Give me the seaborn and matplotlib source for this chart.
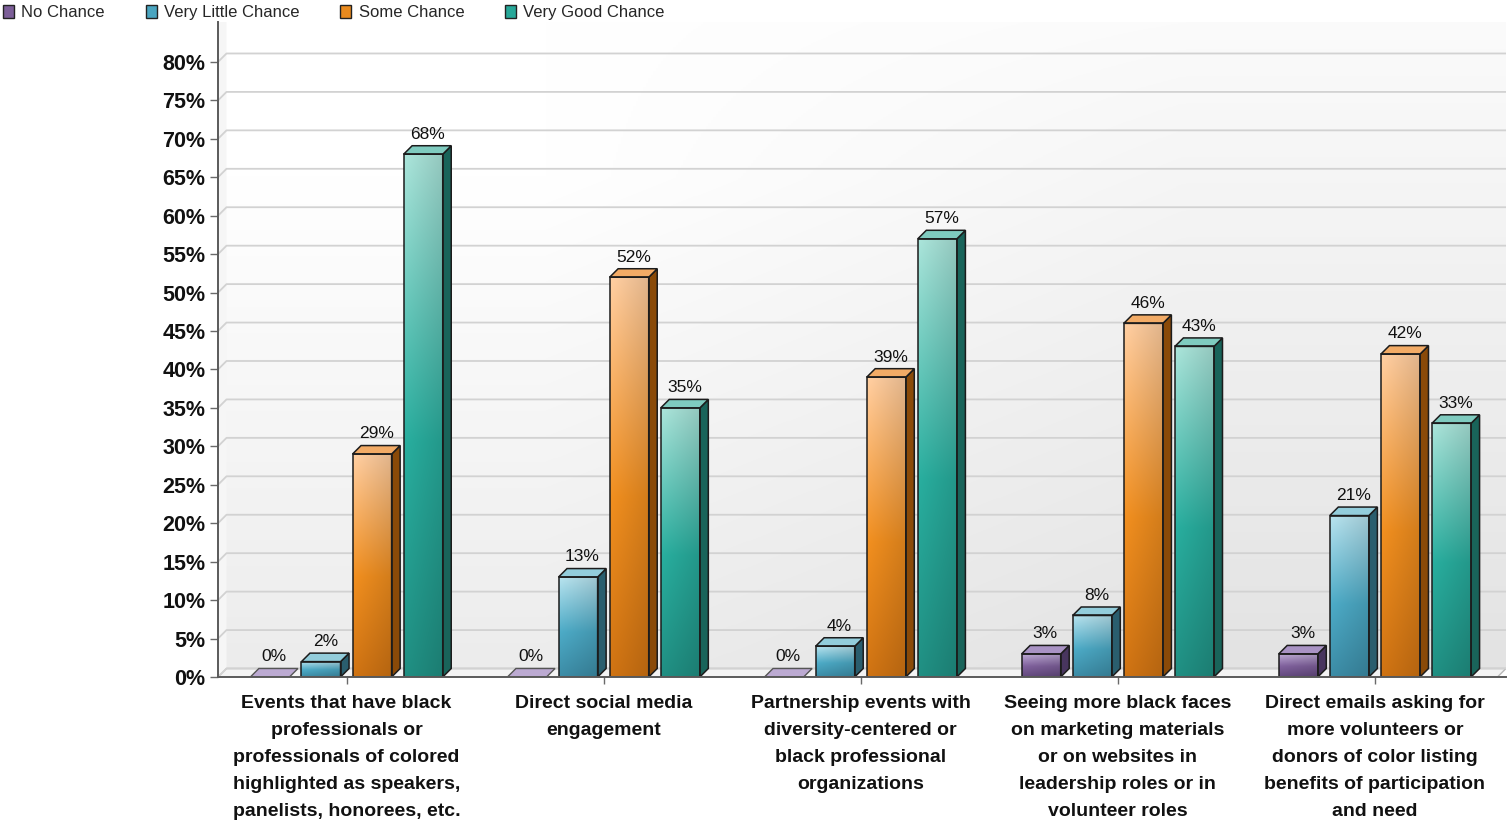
import numpy as np
import pandas as pd
import matplotlib
matplotlib.use("Agg")
import matplotlib.pyplot as plt
import seaborn as sns
from matplotlib.patches import Polygon, Rectangle, Patch
from matplotlib.colors import to_rgb

# ---- data -------------------------------------------------------------
categories = [
    "Events that have black\nprofessionals or\nprofessionals of colored\nhighlighted as speakers,\npanelists, honorees, etc.",
    "Direct social media\nengagement",
    "Partnership events with\ndiversity-centered or\nblack professional\norganizations",
    "Seeing more black faces\non marketing materials\nor on websites in\nleadership roles or in\nvolunteer roles",
    "Direct emails asking for\nmore volunteers or\ndonors of color listing\nbenefits of participation\nand need",
]
series = ["No Chance", "Very Little Chance", "Some Chance", "Very Good Chance"]
no_chance = [0, 0, 0, 3, 3]
very_little_chance = [2, 13, 4, 8, 21]
some_chance = [29, 52, 39, 46, 42]
very_good_chance = [68, 35, 57, 43, 33]
y_ticks = list(range(0, 85, 5))

values = [no_chance, very_little_chance, some_chance, very_good_chance]
df = pd.DataFrame(
    [(c, s, v[i]) for s, v in zip(series, values) for i, c in enumerate(categories)],
    columns=["category", "series", "value"],
)

# shading per series: light (top of front), base, dark (bottom), side face, top face
shades = {
    "No Chance":          ("#bcaad2", "#7c5e98", "#5f4679", "#48355e", "#a993c4"),
    "Very Little Chance": ("#b2dce7", "#4aa5c0", "#3a87a0", "#2a5e6e", "#93cddb"),
    "Some Chance":        ("#f8c89c", "#e98a1e", "#c86f12", "#8a4a08", "#f2ab66"),
    "Very Good Chance":   ("#a5ddd3", "#27a899", "#1f8a7e", "#19645a", "#7fcbbf"),
}
palette = {s: shades[s][1] for s in series}

# ---- figure -------------------------------------------------------------
sns.set_theme(style="white")
plt.rcParams["font.family"] = ["Liberation Sans", "DejaVu Sans"]

W, H = 1507, 823
fig = plt.figure(figsize=(W / 100, H / 100), dpi=100)
fig.patch.set_facecolor("white")
ax = fig.add_axes([218 / W, (H - 677) / H, (1506 - 218) / W, (677 - 22) / H])
ax.set_facecolor("white")

sns.barplot(
    data=df, x="category", y="value", hue="series", order=categories,
    hue_order=series, palette=palette, width=0.795, gap=0.235,
    saturation=1, errorbar=None, legend=False, ax=ax,
)

X0, X1 = -0.5, 4.51
Y0, Y1 = 0, 85.2
ax.set_xlim(X0, X1)
ax.set_ylim(Y0, Y1)

# depth of the pseudo-3D projection, in data units (about 8.5 px each way)
px_x = (1506 - 218) / (X1 - X0)
px_y = (677 - 22) / (Y1 - Y0)
dx = 8.5 / px_x
dy = 8.5 / px_y


def vgrad(light, base, dark, knee=0.45, n=256, m=24, shade=0.10):
    t = np.linspace(0, 1, n)[:, None, None]
    l, b, d = (np.array(to_rgb(c))[None, None, :] for c in (light, base, dark))
    lo = d + (b - d) * np.clip(t / knee, 0, 1)
    hi = b + (l - b) * np.clip((t - knee) / (1 - knee), 0, 1)
    img = np.where(t < knee, lo, hi)
    img = np.repeat(img, m, axis=1)
    f = np.linspace(1.04, 1.0 - shade, m)[None, :, None]
    return np.clip(img * f, 0, 1)


# back wall, left wall and floor
wall = vgrad("#fbfbfb", "#efefef", "#e3e3e3", knee=0.5, m=2, shade=0)
ax.imshow(wall, extent=[X0 + dx, X1, dy, Y1], origin="lower", aspect="auto",
          interpolation="bilinear", zorder=0.2)
ax.add_patch(Polygon([(X0, 0), (X0 + dx, dy), (X0 + dx, Y1), (X0, Y1)],
                     closed=True, fc="#f6f6f6", ec="none", zorder=0.3))
ax.add_patch(Polygon([(X0, 0), (X1 - dx, 0), (X1, dy), (X0 + dx, dy)],
                     closed=True, fc="#f3f3f3", ec="#b8b8b8", lw=1.0, zorder=0.4))
for v in y_ticks:
    ax.plot([X0, X0 + dx, X1], [v, v + dy, v + dy], color="#d2d2d2", lw=1.3,
            zorder=0.5, solid_capstyle="butt")

EDGE = "#1c1c1c"
for s, cont in zip(series, ax.containers):
    light, base, dark, side, top = shades[s]
    for bar, v in zip(cont.patches, values[series.index(s)]):
        x, w, h = bar.get_x(), bar.get_width(), bar.get_height()
        bar.set_visible(False)
        if h > 0:
            ax.imshow(vgrad(light, base, dark), extent=[x, x + w, 0, h],
                      origin="lower", aspect="auto", interpolation="bilinear",
                      zorder=3)
            ax.add_patch(Rectangle((x, 0), w, h, fill=False, ec=EDGE, lw=1.1,
                                   zorder=3.2))
            ax.add_patch(Polygon([(x + w, 0), (x + w + dx, dy), (x + w + dx, h + dy),
                                  (x + w, h)], closed=True, fc=side, ec=EDGE,
                                 lw=1.1, zorder=3.1))
            ax.add_patch(Polygon([(x, h), (x + w, h), (x + w + dx, h + dy),
                                  (x + dx, h + dy)], closed=True, fc=top, ec=EDGE,
                                 lw=1.1, zorder=3.1))
        else:
            ax.add_patch(Polygon([(x, 0), (x + w, 0), (x + w + dx, dy), (x + dx, dy)],
                                 closed=True, fc=light, ec="#555555", lw=1.0,
                                 zorder=3.1))
        ax.annotate(f"{v}%", xy=(x + w / 2 + dx / 2, h + dy), xytext=(0, 3),
                    textcoords="offset points", ha="center", va="bottom",
                    fontsize=12.5, color="#111111", zorder=4)

# axes, ticks and labels
ax.set_xlabel("")
ax.set_ylabel("")
ax.set_yticks(y_ticks)
ax.set_yticklabels([f"{v}%" for v in y_ticks])
ax.grid(False)
for side_name in ("top", "right"):
    ax.spines[side_name].set_visible(False)
for side_name in ("left", "bottom"):
    ax.spines[side_name].set_color("#5a5a5a")
    ax.spines[side_name].set_linewidth(1.4)
    ax.spines[side_name].set_zorder(5)
ax.tick_params(axis="y", left=True, length=6, width=1, color="#6a6a6a", pad=3)
ax.tick_params(axis="x", bottom=True, length=5, width=1, color="#6a6a6a", pad=8)
for lbl in ax.get_yticklabels():
    lbl.set_fontweight("bold")
    lbl.set_fontsize(15.5)
    lbl.set_color("#111111")
for lbl in ax.get_xticklabels():
    lbl.set_fontweight("bold")
    lbl.set_fontsize(14)
    lbl.set_color("#111111")
    lbl.set_linespacing(1.76)

handles = [Patch(facecolor=shades[s][1], edgecolor="#222222", lw=1.0, label=s)
           for s in series]
fig.legend(handles=handles, loc="upper left", bbox_to_anchor=(3 / W, 1 - 5 / H),
           ncol=4, frameon=False, fontsize=12, handlelength=0.65,
           handleheight=0.8, handletextpad=0.45, columnspacing=2.45,
           borderaxespad=0, borderpad=0)

fig.savefig("out.png", dpi=100, facecolor="white")
